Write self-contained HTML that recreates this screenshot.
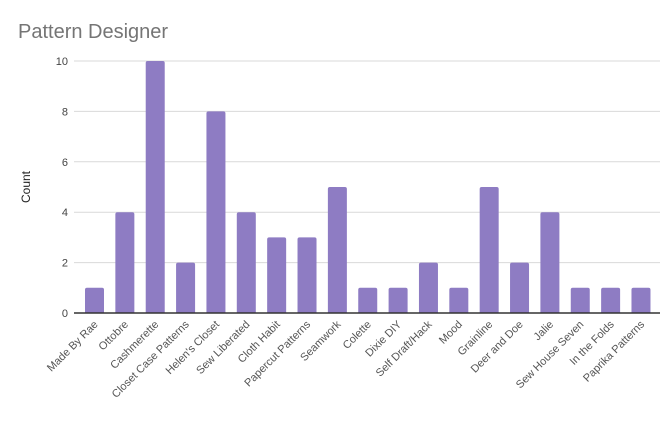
<!DOCTYPE html>
<html><head><meta charset="utf-8"><style>
body{margin:0;background:#fff;width:663px;height:419px;overflow:hidden;font-family:"Liberation Sans",Arial,sans-serif}
</style></head><body>
<svg width="663" height="419">
<text x="18" y="38" font-size="20" fill="#757575">Pattern Designer</text>
<text transform="translate(30,187) rotate(-90)" text-anchor="middle" font-size="12" fill="#222">Count</text>
<g id="grid"></g><g id="bars"></g><g id="xl"></g>
<line x1="74" x2="660" y1="313" y2="313" stroke="#333" stroke-width="1.5"/>
</svg>
<script>
const categories=["Made By Rae","Ottobre","Cashmerette","Closet Case Patterns","Helen's Closet","Sew Liberated","Cloth Habit","Papercut Patterns","Seamwork","Colette","Dixie DIY","Self Draft/Hack","Mood","Grainline","Deer and Doe","Jalie","Sew House Seven","In the Folds","Paprika Patterns"];
const counts=[1,4,10,2,8,4,3,3,5,1,1,2,1,5,2,4,1,1,1];
const yTicks=[0,2,4,6,8,10];
const NS="http://www.w3.org/2000/svg";
const y0=313,y1=61,ymax=10;
const yS=v=>y0-(y0-y1)*v/ymax;
const step=30.36,left=94.5-step/2;
const xC=i=>left+step*(i+0.5);
const g=document.getElementById('grid'),b=document.getElementById('bars'),xl=document.getElementById('xl');
function mk(t,a){const e=document.createElementNS(NS,t);for(const k in a)e.setAttribute(k,a[k]);return e;}
yTicks.forEach(v=>{
 if(v>0){const l=mk('line',{x1:74,x2:660,y1:yS(v),y2:yS(v),stroke:'#d9d9d9'});
 
 g.appendChild(l);}
 const t=mk('text',{x:68,y:yS(v)+4,'text-anchor':'end','font-size':11,fill:'#444'});
 
 
 t.textContent=v;g.appendChild(t);
});
categories.forEach((c,i)=>{
 const r=mk('path',{d:`M${xC(i)-9.5},${y0}V${yS(counts[i])+2}q0,-2 2,-2h15q2,0 2,2V${y0}Z`,fill:'#8e7cc3'});
 
 
 b.appendChild(r);
 const t=mk('text',{transform:`translate(${xC(i)+4},${y0+12}) rotate(-45)`,'text-anchor':'end','font-size':11,fill:'#555'});
 
 
 t.textContent=c;xl.appendChild(t);
});
</script>
</body></html>
